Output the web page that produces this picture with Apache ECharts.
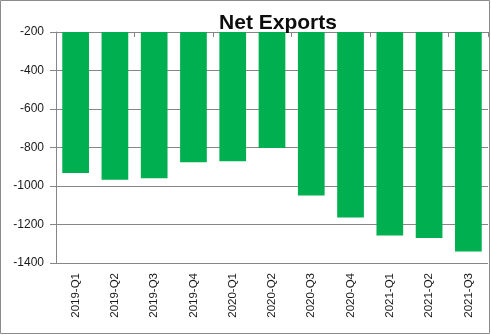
<!DOCTYPE html>
<html>
<head>
<meta charset="utf-8">
<script src="https://cdn.jsdelivr.net/npm/echarts@6/dist/echarts.min.js"></script>
<style>
html,body{margin:0;padding:0;background:#fff;}
#chart{width:491px;height:335px;}
</style>
</head>
<body>
<div id="chart"></div>
<script>
var categories = ['2019-Q1','2019-Q2','2019-Q3','2019-Q4','2020-Q1','2020-Q2','2020-Q3','2020-Q4','2021-Q1','2021-Q2','2021-Q3'];
var netExports = [-932, -967, -960, -877, -872, -803, -1049, -1163, -1257, -1270, -1340];
var yTicks = {min: -1400, max: -200, interval: 200};

var chart = echarts.init(document.getElementById('chart'), null, {renderer: 'canvas'});
var font = '"Liberation Sans", Arial, sans-serif';
chart.setOption({
  animation: false,
  backgroundColor: '#fff',
  title: {
    text: 'Net Exports',
    left: 273, textAlign: 'center',
    top: 8,
    textStyle: {fontFamily: font, fontWeight: 'bold', fontSize: 21, color: '#0d0d0d'}
  },
  graphic: [{
    type: 'rect', shape: {x: 0.5, y: 0.5, width: 489, height: 333},
    style: {fill: 'none', stroke: '#8c8c8c', lineWidth: 1}, silent: true
  }],
  grid: {left: 56, right: 3, top: 32, bottom: 72},
  xAxis: [{
    type: 'category', data: categories, position: 'bottom',
    axisLine: {show: false}, axisTick: {show: false},
    axisLabel: {rotate: 90, margin: 10, fontFamily: font, fontSize: 11.5, color: '#1a1a1a'}
  }, {
    type: 'category', data: categories, position: 'top',
    axisLine: {show: true, lineStyle: {color: '#868686'}},
    axisTick: {show: true, inside: true, length: 5, lineStyle: {color: '#868686'}},
    axisLabel: {show: false}
  }],
  yAxis: {
    type: 'value', min: yTicks.min, max: yTicks.max, interval: yTicks.interval,
    axisLine: {show: true, lineStyle: {color: '#868686'}},
    axisTick: {show: true, length: 6, lineStyle: {color: '#868686'}},
    axisLabel: {margin: 12, fontFamily: font, fontSize: 12, color: '#1a1a1a',
      formatter: function (v) { return String(v); }},
    splitLine: {show: true, lineStyle: {color: '#868686', width: 1}}
  },
  series: [{
    type: 'bar', data: netExports, xAxisIndex: 0,
    barWidth: '68%', clip: true,
    itemStyle: {color: '#00b050'}
  }]
});
</script>
</body>
</html>
